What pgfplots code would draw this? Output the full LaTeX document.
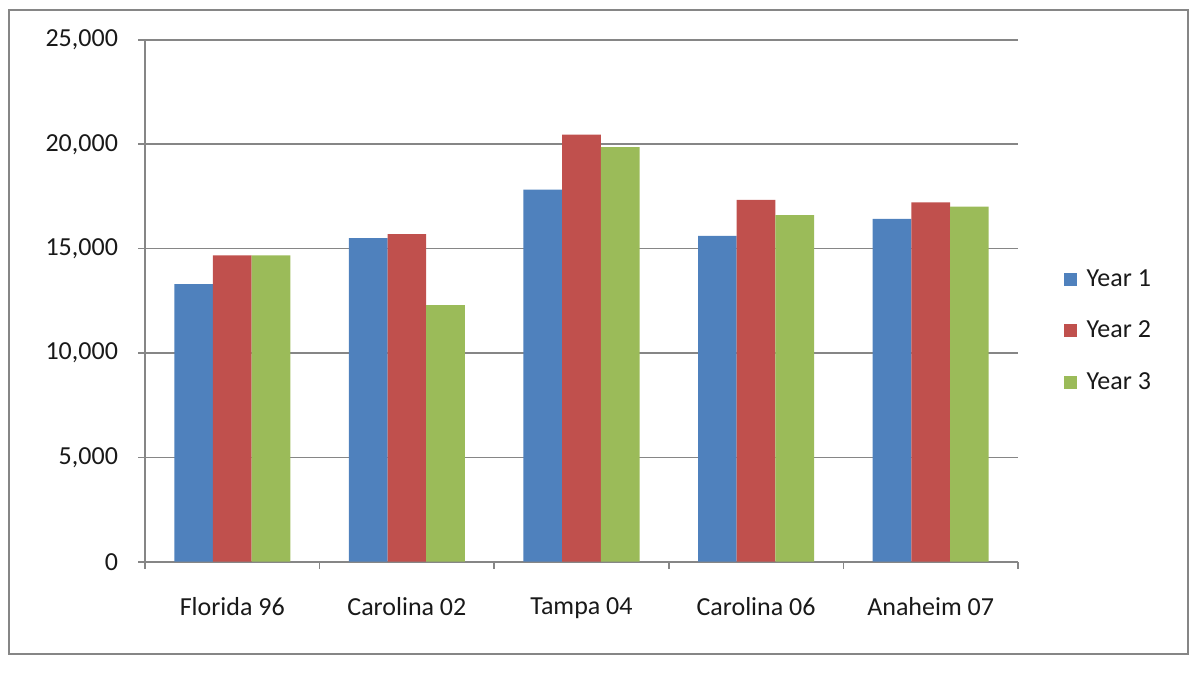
\documentclass[border=0pt]{standalone}
\usepackage{fontspec}
\setmainfont{Carlito}
\usepackage{pgfplots}
\pgfplotsset{compat=1.18}

\definecolor{yrone}{HTML}{4F81BD}
\definecolor{yrtwo}{HTML}{C0504D}
\definecolor{yrthree}{HTML}{9BBB59}
\definecolor{axgray}{HTML}{868686}

\begin{document}
\begin{tikzpicture}
\useasboundingbox (0,0) rectangle (600pt,337.5pt);
\draw[axgray, line width=0.8pt] (4.5pt,10.5pt) rectangle (594pt,332.5pt);
\begin{axis}[
    at={(72.5pt,56.65pt)}, anchor=south west,
    scale only axis,
    width=436.5pt, height=260.9pt,
    ybar=0pt, bar width=19.35pt,
    xmin=-0.5, xmax=4.5,
    ymin=0, ymax=25000,
    ytick={0,5000,...,25000},
    xtick={-0.5,0.5,...,4.5},
    x tick label as interval,
    xticklabels={Florida 96, Carolina 02, Tampa 04, Carolina 06, Anaheim 07},
    axis x line*=bottom, axis y line*=left,
    axis line style={axgray, line width=0.8pt, -},
    tick style={axgray, line width=0.8pt},
    tick align=outside, major tick length=3.5pt,
    ymajorgrids, grid style={axgray, line width=0.8pt},
    scaled y ticks=false,
    /pgf/number format/.cd, 1000 sep={,}, assume math mode=true, /pgfplots/.cd,
    ticklabel style={font=\fontsize{13pt}{15pt}\selectfont, text=black!90},
    yticklabel style={xshift=-6.5pt},
    xticklabel style={yshift=-11pt},
    legend style={at={(1.045,0.442)}, anchor=west, draw=none, fill=none,
        font=\fontsize{13pt}{15pt}\selectfont, text=black!90, row sep=12pt,
        /tikz/every even column/.append style={column sep=3pt}},
    legend cell align=left,
    legend image code/.code={\fill[#1] (0pt,-3.25pt) rectangle (6.5pt,3.25pt);},
]
\addplot[fill=yrone, draw=none] coordinates {
    (0,13300) (1,15500) (2,17830) (3,15610) (4,16420)
};
\addplot[fill=yrtwo, draw=none] coordinates {
    (0,14680) (1,15700) (2,20460) (3,17330) (4,17220)
};
\addplot[fill=yrthree, draw=none] coordinates {
    (0,14680) (1,12290) (2,19860) (3,16610) (4,17010)
};
\legend{\hspace{3pt}Year 1, \hspace{3pt}Year 2, \hspace{3pt}Year 3}
\end{axis}
\end{tikzpicture}
\end{document}
